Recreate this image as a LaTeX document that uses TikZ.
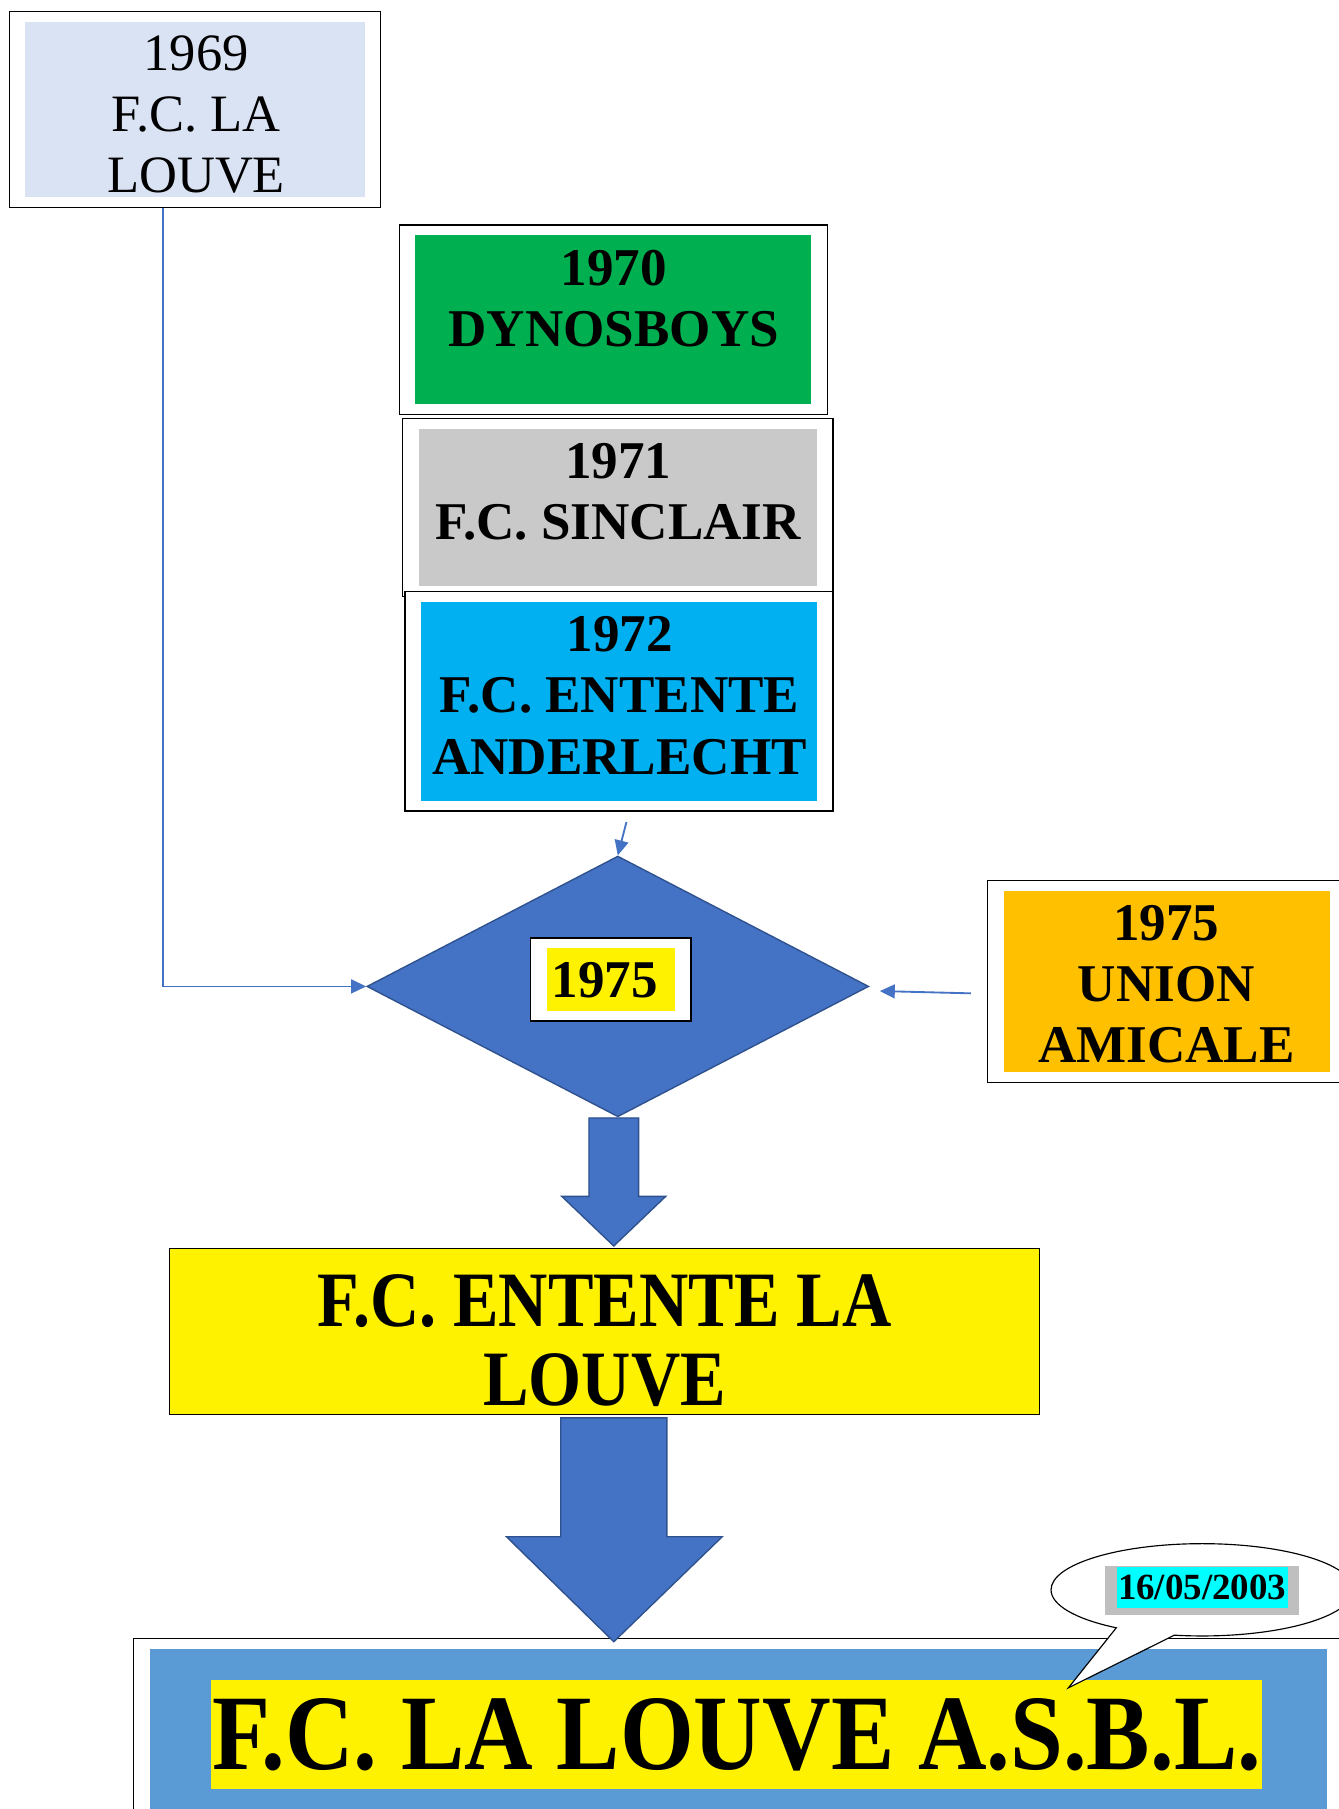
\documentclass[tikz,border=0pt]{standalone}
\usepackage{fontspec}
\setmainfont{Liberation Serif}
\newfontfamily\narrowface[FakeStretch=0.87]{Liberation Serif}
\newfontfamily\wideface[FakeStretch=0.885]{Liberation Serif}
\usetikzlibrary{shapes.geometric, shapes.callouts, arrows.meta}

\definecolor{flowblue}{HTML}{4472C4}
\definecolor{flowedge}{HTML}{2F528F}
\definecolor{paleblue}{HTML}{DAE3F3}
\definecolor{clubgreen}{HTML}{00B050}
\definecolor{clubgrey}{HTML}{C9C9C9}
\definecolor{clubcyan}{HTML}{00B0F0}
\definecolor{clubgold}{HTML}{FFC000}
\definecolor{asblblue}{HTML}{5B9BD5}
\definecolor{dategrey}{HTML}{BFBFBF}
\definecolor{datecyan}{HTML}{00FFFF}

\tikzset{
  clubframe/.style = {draw = black, line width = 1pt, inner sep = 0pt, fill = white,
    path picture = {\fill[#1] ([xshift = 14pt, yshift = -9pt]path picture bounding box.north west)
      rectangle ([xshift = -14pt, yshift = 9pt]path picture bounding box.south east);}},
  clubname/.style = {inner sep = 0pt, align = center, font = \bfseries\fontsize{46}{53}\selectfont},
  link/.style = {draw = flowblue, line width = 1.6pt, -{Triangle[length = 13pt, width = 12pt]}},
  fatarrow/.style = {fill = flowblue, draw = flowedge, line width = 1.2pt},
}

\begin{document}
\begin{tikzpicture}[x = 1pt, y = -1pt]
  \useasboundingbox (0, 0) rectangle (1160, 1568);
  % first club
  \node[clubframe = paleblue, minimum width = 322pt, minimum height = 170pt] (f1969) at (169, 95) {};
  \node[inner sep = 0pt, align = center, font = \fontsize{45.5}{53}\selectfont] (t1969) at (170, 99)
    {1969\\F.C. LA\\LOUVE};
  % clubs of the seventies
  \node[clubframe = clubgreen, minimum width = 371pt, minimum height = 164pt] (f1970) at (531.5, 277) {};
  \node[clubname] (t1970) at (532, 259) {1970\\DYNOSBOYS};
  \node[clubframe = clubgrey, minimum width = 373pt, minimum height = 154pt] (f1971) at (535.5, 440) {};
  \node[clubname] (t1971) at (536, 426.5) {1971\\F.C. SINCLAIR};
  \node[clubframe = clubcyan, minimum width = 371pt, minimum height = 190pt] (f1972) at (536.5, 608) {};
  \node[clubname] (t1972) at (537, 603) {1972\\F.C. ENTENTE\\ANDERLECHT};
  \node[clubframe = clubgold, minimum width = 311pt, minimum height = 175pt] (fUnion) at (1011.5, 850.5) {};
  \node[clubname] (tUnion) at (1011, 853) {1975\\UNION\\AMICALE};
  % merger
  \node[diamond, fill = flowblue, draw = flowedge, line width = 1.2pt, inner sep = 0pt,
    minimum width = 435pt, minimum height = 226pt] (dia) at (535.5, 855) {};
  \node[clubframe = yellow, minimum width = 139pt, minimum height = 72pt] (f1975) at (529.5, 849) {};
  \node[clubname] (t1975) at (524, 850) {1975};
  % connectors
  \draw[link] ([xshift = -28pt]f1969.south) |- (dia.west);
  \draw[link] ([xshift = 6.5pt, yshift = -9pt]f1972.south) -- (dia.north);
  \draw[link] ([xshift = -14pt, yshift = -10.5pt]fUnion.west) -- ([xshift = 9pt, yshift = -4pt]dia.east);
  % new club
  \node[draw = black, line width = 1pt, fill = yellow, minimum width = 754pt, minimum height = 144pt]
    (fEntente) at (524, 1154) {};
  \node[inner sep = 0pt, align = center, font = \narrowface\bfseries\fontsize{68}{68}\selectfont]
    (tEntente) at (524, 1162) {F.C. ENTENTE LA\\LOUVE};
  % today
  \node[clubframe = asblblue, minimum width = 1048pt, minimum height = 200pt] (fAsbl) at (640, 1520) {};
  \node[fill = yellow, inner sep = 0pt, minimum width = 911pt, minimum height = 95pt,
    font = \wideface\bfseries\fontsize{93}{93}\selectfont] (tAsbl) at (638.5, 1503.5) {F.C. LA LOUVE A.S.B.L.};
  % block arrows
  \draw[fatarrow] (510.5, 969) -- (553.5, 969) -- (553.5, 1037) -- (577, 1037) -- (532, 1080)
    -- (487, 1037) -- (510.5, 1037) -- cycle;
  \draw[fatarrow] (486, 1229) -- (578, 1229) -- (578, 1332) -- (626, 1332) -- (532, 1423)
    -- (439, 1332) -- (486, 1332) -- cycle;
  % date bubble
  \node[ellipse callout, draw = black, line width = 1pt, fill = white, inner sep = 0pt,
    minimum width = 262pt, minimum height = 80pt, callout absolute pointer = {(926, 1463)},
    callout pointer arc = 24] (bubble) at (1042, 1378) {};
  \node[fill = dategrey, inner sep = 0pt, minimum width = 168pt, minimum height = 43pt] (dshade) at (1042, 1378.5) {};
  \node[fill = datecyan, inner sep = 0pt, minimum width = 148pt, minimum height = 36pt,
    font = \bfseries\fontsize{32}{36}\selectfont] (date) at (1042, 1376) {16/05/2003};
\end{tikzpicture}
\end{document}
